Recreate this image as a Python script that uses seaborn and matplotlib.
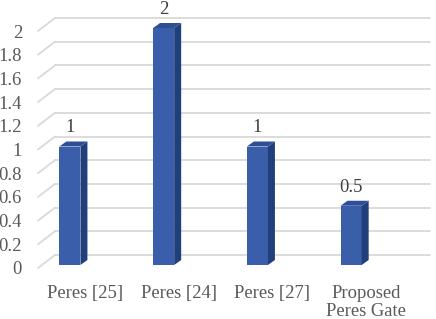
import matplotlib
matplotlib.use("Agg")
import matplotlib.pyplot as plt
import matplotlib.transforms as mtransforms
from matplotlib.patches import Polygon
import seaborn as sns
import numpy as np

categories = ["Peres [25]", "Peres [24]", "Peres [27]", "Proposed\nPeres Gate"]
values = [1, 2, 1, 0.5]
value_labels = ["1", "2", "1", "0.5"]
yticks = [0, 0.2, 0.4, 0.6, 0.8, 1, 1.2, 1.4, 1.6, 1.8, 2]
ytick_labels = ["0", "0.2", "0.4", "0.6", "0.8", "1", "1.2", "1.4", "1.6", "1.8", "2"]

front_color = "#3a5ea9"
side_color = "#213f7a"
top_color = "#2d4f96"
grid_color = "#d9d9d9"
text_color = "#404040"

sns.set_theme(style="white")
plt.rcParams["font.family"] = ["Liberation Serif", "DejaVu Serif"]

W, H = 436, 319
fig = plt.figure(figsize=(W / 100, H / 100), dpi=100)
# front floor plane: x 38..413 px, y (from top) 10..268 px
ax = fig.add_axes([38 / W, (H - 268) / H, (413 - 38) / W, (268 - 10) / H])
ax.set_xlim(-0.5, 3.5)
ax.set_ylim(0, 258 / 118.5)

# pixel -> data scale
px_x = 4 / 375
px_y = (258 / 118.5) / 258

# walls: back gridlines plus the floor diagonals
gdx, gdy = 17 * px_x, 13 * px_y
for v in yticks:
    ax.plot([-0.5, -0.5 + gdx], [v, v + gdy], color=grid_color, lw=1.3,
            clip_on=False, zorder=0)
    ax.plot([-0.5 + gdx, 3.5 + gdx], [v + gdy, v + gdy], color=grid_color,
            lw=1.3, clip_on=False, zorder=0)

df = {"cat": categories, "val": values}
sns.barplot(x="cat", y="val", data=df, color=front_color, width=0.225,
            saturation=1, ax=ax, zorder=3)

# bars sit a bit left and above the front floor edge
shift = mtransforms.offset_copy(ax.transData, fig=fig, x=-15, y=3, units="dots")
bdx, bdy = 7 * px_x, 5 * px_y
for p, lab in zip(ax.patches, value_labels):
    p.set_transform(shift)
    p.set_edgecolor("none")
    x0 = p.get_x()
    x1 = x0 + p.get_width()
    h = p.get_height()
    side = Polygon([(x1, 0), (x1 + bdx, bdy), (x1 + bdx, h + bdy), (x1, h)],
                   closed=True, facecolor=side_color, edgecolor="none",
                   transform=shift, zorder=3)
    top = Polygon([(x0, h), (x1, h), (x1 + bdx, h + bdy), (x0 + bdx, h + bdy)],
                  closed=True, facecolor=top_color, edgecolor="none",
                  transform=shift, zorder=3)
    ax.add_patch(side)
    ax.add_patch(top)
    ax.text(x0 + p.get_width() / 2, h + 10 * px_y, lab, ha="center",
            va="bottom", fontsize=13.4, color=text_color, transform=shift)

ax.set_yticks(yticks)
ax.set_yticklabels(ytick_labels)
ax.set_xlabel("")
ax.set_ylabel("")
ax.tick_params(axis="both", length=0, labelsize=13.4, colors="#595959")
ax.tick_params(axis="y", pad=11.5)
ax.tick_params(axis="x", pad=12)
for lbl in ax.get_xticklabels():
    lbl.set_linespacing(1.1)
for s in ax.spines.values():
    s.set_visible(False)
ax.patch.set_alpha(0)

fig.savefig("out.png", dpi=100, facecolor="white")
